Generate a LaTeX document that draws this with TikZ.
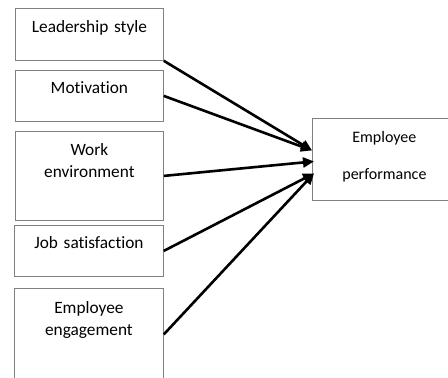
\documentclass[tikz,border=0pt]{standalone}
\usepackage{fontspec}
\setmainfont{Carlito}[Ligatures=NoCommon]
\usetikzlibrary{arrows.meta}

\tikzset{
  factor/.style={draw=gray, line width=0.8pt, inner sep=0pt, text width=148pt,
    align=center, anchor=north west, font=\fontsize{17.3}{22}\selectfont},
  effect/.style={-{Triangle[length=11pt,width=10pt]}, line width=2.6pt}
}

\begin{document}
\begin{tikzpicture}[x=1pt, y=-1pt]
          \useasboundingbox (0,0) rectangle (448,378);

          % the five factors on the left
          \node[factor, text height=24pt, text depth=28pt] (lead) at (15,8) {Leadership style};
          \node[factor, text height=23.5pt, text depth=27.5pt] (motiv) at (15,70) {Motivation};
          \node[factor, text height=24.5pt, text depth=64.5pt] (env) at (15,131) {Work\\environment};
          \node[factor, text width=149pt, text height=23.5pt, text depth=27.5pt] (satis) at (14,225) {Job satisfaction};
          \node[factor, text width=149pt, text height=25pt, text depth=67pt] (engage) at (14,288) {Employee\\engagement};

          % the outcome
          \node[factor, text width=144pt, font=\fontsize{16}{22}\selectfont,
                text height=24pt, text depth=58pt] (perf) at (312,118) {Employee\\[15pt]performance};

          \draw[effect] (lead.south east) -- ([yshift=9pt]perf.west);
          \draw[effect] (motiv.east) -- ([yshift=9pt]perf.west);
          \draw[effect] (env.east) -- ([yshift=-2pt, xshift=2pt]perf.west);
          \draw[effect] (satis.east) -- ([yshift=-14pt, xshift=2pt]perf.west);
          \draw[effect] (engage.east) -- ([yshift=-14pt, xshift=2pt]perf.west);

        \end{tikzpicture}
\end{document}
